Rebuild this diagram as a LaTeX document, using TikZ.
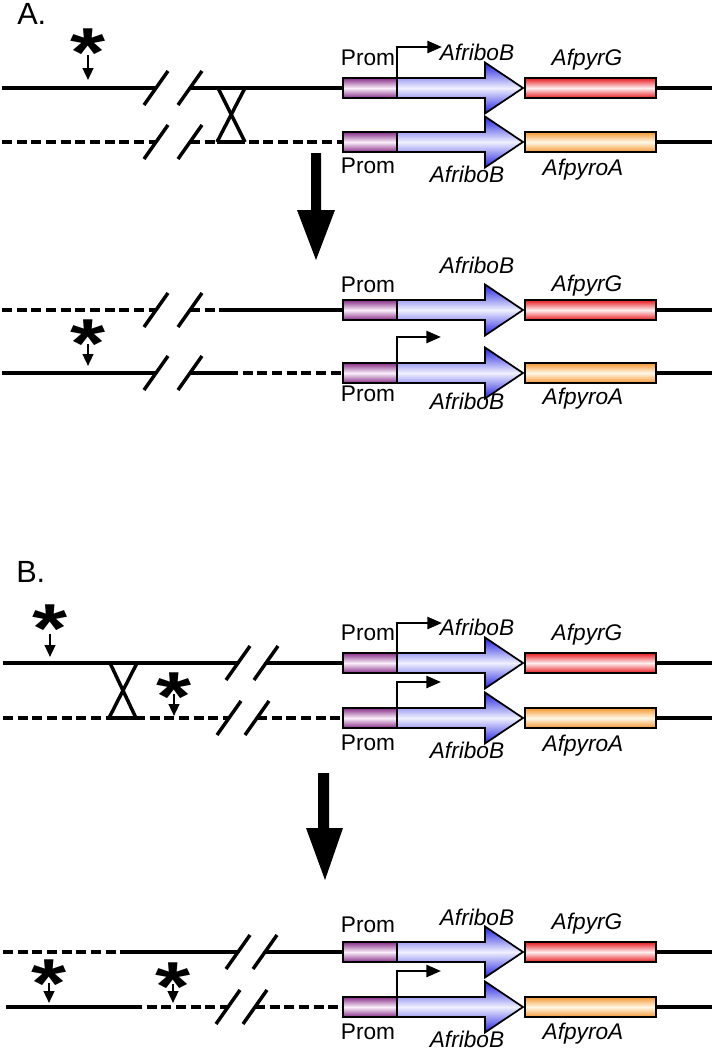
\documentclass[tikz,border=0pt]{standalone}
\usepackage{fontspec}
\setmainfont{Liberation Sans}
\usetikzlibrary{calc,arrows.meta}
\definecolor{promC}{RGB}{135,45,135}
\definecolor{promM}{RGB}{250,240,250}
\definecolor{arrC}{RGB}{35,35,225}
\definecolor{arrM}{RGB}{240,240,255}
\definecolor{redC}{RGB}{230,25,30}
\definecolor{redM}{RGB}{255,240,240}
\definecolor{orgC}{RGB}{245,150,50}
\definecolor{orgM}{RGB}{255,248,230}
\tikzset{
  dna/.style={line width=2.6pt},
  dnadash/.style={line width=2.6pt, dash pattern=on 7.5pt off 3.5pt},
  brk/.style={line width=2.6pt},
  xover/.style={line width=2.6pt},
  promnode/.style={draw, line width=1.3pt, minimum width=40.5pt, minimum height=15pt, inner sep=0pt, outer sep=0pt, top color=promC, bottom color=promC, middle color=promM},
  genenode/.style={draw, line width=1.3pt, minimum width=98.25pt, minimum height=15pt, inner sep=0pt, outer sep=0pt},
  arrowshape/.style={draw, line width=1.3pt, line join=miter, top color=arrC, bottom color=arrC, middle color=arrM},
  tss/.style={line width=1.9pt, line join=miter, -{Triangle[length=11pt,width=9pt]}},
  smallarr/.style={line width=1.7pt, -{Triangle[length=9pt,width=8pt]}},
  astnode/.style={anchor=north, inner sep=0pt, outer sep=0pt, font=\fontsize{52}{52}\selectfont\bfseries},
  lab/.style={anchor=base, inner sep=0pt, font=\fontsize{17}{20}\selectfont},
  itlab/.style={anchor=base, inner sep=0pt, font=\fontsize{17}{20}\selectfont\itshape},
  seclab/.style={anchor=base west, inner sep=0pt, font=\fontsize{23}{26}\selectfont},
  bigarrow/.style={fill=black}
}
\newcommand\cassette[4]{%
  \node[promnode] (#1p) at (370,#2) {};
  \path[arrowshape] (397,#2-10) -- (485,#2-10) -- (485,#2-25.5) -- (523,#2) -- (485,#2+25.5) -- (485,#2+10) -- (397,#2+10) -- cycle;
  \node[genenode, top color=#3, bottom color=#3, middle color=#4] (#1g) at (590.5,#2) {};
  \coordinate (#1R) at (712,#2);
  \draw[dna] (#1g.east) -- (#1R);
}
\newcommand\brkmark[1]{\draw[brk] ($(#1)+(-12,17)$) -- ($(#1)+(12,-17)$);}
\newcommand\mutation[5]{%
  \node[astnode] (#1) at (#2,#3) {\scalebox{1.3}[1]{*}};
  \coordinate (#1a) at (#2,#4);
  \coordinate (#1b) at (#2,#5);
  \draw[smallarr] (#1a) -- (#1b);
}
\begin{document}
\begin{tikzpicture}[x=0.75pt,y=-0.75pt]
\useasboundingbox (0,0) rectangle (715,1050);

% ---------- Section A ----------
\node[seclab] (labA) at (17,24) {A.};

% row 1 (y=88)
\cassette{r1}{88}{redC}{redM}
\coordinate (r1L) at (2,88);
\coordinate (r1s1) at (156,88);
\coordinate (r1s2) at (190,88);
\draw[dna] (r1L) -- (r1s1);
\draw[dna] (r1s2) -- (r1p.west);
\brkmark{r1s1}\brkmark{r1s2}
\coordinate (r1t) at (442,47);
\draw[tss] (r1p.north east) |- (r1t);
\node[lab] (r1lp) at (368,65) {Prom};
\node[itlab] (r1la) at (477,60) {AfriboB};
\node[itlab] (r1lg) at (587,65) {AfpyrG};
\mutation{m1}{88}{29}{55}{80}

% row 2 (y=142)
\cassette{r2}{142}{orgC}{orgM}
\coordinate (r2L) at (2,142);
\coordinate (r2s1) at (156,142);
\coordinate (r2s2) at (190,142);
\draw[dnadash] (r2L) -- (r2s1);
\draw[dnadash] (r2s2) -- (r2p.west);
\brkmark{r2s1}\brkmark{r2s2}
\node[lab] (r2lp) at (368,173) {Prom};
\node[itlab] (r2la) at (467,182) {AfriboB};
\node[itlab] (r2lg) at (583,175) {AfpyroA};

% crossover A
\coordinate (xa1) at (218,88);
\coordinate (xa2) at (245,142);
\coordinate (xa3) at (245,88);
\coordinate (xa4) at (217,142);
\draw[xover] (xa1) -- (xa2);
\draw[xover] (xa3) -- (xa4);
\draw[xover] (xa4) -- (xa2);

% big arrow A
\fill[bigarrow] (311,153) -- (321,153) -- (321,210) -- (335,210) -- (316,260) -- (297,210) -- (311,210) -- cycle;

% row 3 (y=310)
\cassette{r3}{310}{redC}{redM}
\coordinate (r3L) at (2,310);
\coordinate (r3s1) at (156,310);
\coordinate (r3s2) at (190,310);
\coordinate (r3j) at (228,310);
\draw[dnadash] (r3L) -- (r3s1);
\draw[dnadash] (r3s2) -- (r3j);
\draw[dna] (r3j) -- (r3p.west);
\brkmark{r3s1}\brkmark{r3s2}
\node[lab] (r3lp) at (368,292) {Prom};
\node[itlab] (r3la) at (477,273) {AfriboB};
\node[itlab] (r3lg) at (587,291) {AfpyrG};

% row 4 (y=373)
\cassette{r4}{373}{orgC}{orgM}
\coordinate (r4L) at (2,373);
\coordinate (r4s1) at (156,373);
\coordinate (r4s2) at (190,373);
\coordinate (r4j) at (228,373);
\draw[dna] (r4L) -- (r4s1);
\draw[dna] (r4s2) -- (r4j);
\draw[dnadash] (r4j) -- (r4p.west);
\brkmark{r4s1}\brkmark{r4s2}
\coordinate (r4t) at (441,337);
\draw[tss] (r4p.north east) |- (r4t);
\node[lab] (r4lp) at (368,401) {Prom};
\node[itlab] (r4la) at (467,409) {AfriboB};
\node[itlab] (r4lg) at (583,404) {AfpyroA};
\mutation{m2}{88}{320}{344}{366}

% ---------- Section B ----------
\node[seclab] (labB) at (16,582) {B.};

% row 5 (y=663)
\cassette{r5}{663}{redC}{redM}
\coordinate (r5L) at (3,663);
\coordinate (r5s1) at (238,663);
\coordinate (r5s2) at (266,663);
\draw[dna] (r5L) -- (r5s1);
\draw[dna] (r5s2) -- (r5p.west);
\brkmark{r5s1}\brkmark{r5s2}
\coordinate (r5t) at (442,623);
\draw[tss] (r5p.north east) |- (r5t);
\node[lab] (r5lp) at (368,640) {Prom};
\node[itlab] (r5la) at (477,635) {AfriboB};
\node[itlab] (r5lg) at (587,640) {AfpyrG};
\mutation{m3}{50}{605}{634}{657}

% row 6 (y=718)
\cassette{r6}{718}{orgC}{orgM}
\coordinate (r6L) at (3,718);
\coordinate (r6s1) at (229,718);
\coordinate (r6s2) at (257,718);
\draw[dnadash] (r6L) -- (r6s1);
\draw[dnadash] (r6s2) -- (r6p.west);
\brkmark{r6s1}\brkmark{r6s2}
\coordinate (r6t) at (441,682);
\draw[tss] (r6p.north east) |- (r6t);
\node[lab] (r6lp) at (368,750) {Prom};
\node[itlab] (r6la) at (467,758) {AfriboB};
\node[itlab] (r6lg) at (583,751) {AfpyroA};
\mutation{m4}{174}{673}{694}{716}

% crossover B
\coordinate (xb1) at (110,663);
\coordinate (xb2) at (136,718);
\coordinate (xb3) at (137,663);
\coordinate (xb4) at (109,718);
\draw[xover] (xb1) -- (xb2);
\draw[xover] (xb3) -- (xb4);
\draw[xover] (xb4) -- (xb2);

% big arrow B
\fill[bigarrow] (318,773) -- (329,773) -- (329,828) -- (343,828) -- (325,880) -- (306,828) -- (318,828) -- cycle;

% row 7 (y=952)
\cassette{r7}{952}{redC}{redM}
\coordinate (r7L) at (3,952);
\coordinate (r7j) at (123,952);
\coordinate (r7s1) at (238,952);
\coordinate (r7s2) at (265,952);
\draw[dnadash] (r7L) -- (r7j);
\draw[dna] (r7j) -- (r7s1);
\draw[dna] (r7s2) -- (r7p.west);
\brkmark{r7s1}\brkmark{r7s2}
\node[lab] (r7lp) at (368,932) {Prom};
\node[itlab] (r7la) at (477,925) {AfriboB};
\node[itlab] (r7lg) at (587,929) {AfpyrG};

% row 8 (y=1007)
\cassette{r8}{1007}{orgC}{orgM}
\coordinate (r8L) at (6,1007);
\coordinate (r8j) at (132,1007);
\coordinate (r8s1) at (228,1007);
\coordinate (r8s2) at (255,1007);
\draw[dna] (r8L) -- (r8j);
\draw[dnadash] (r8j) -- (r8s1);
\draw[dnadash] (r8s2) -- (r8p.west);
\brkmark{r8s1}\brkmark{r8s2}
\coordinate (r8t) at (441,971);
\draw[tss] (r8p.north east) |- (r8t);
\node[lab] (r8lp) at (368,1039) {Prom};
\node[itlab] (r8la) at (467,1047) {AfriboB};
\node[itlab] (r8lg) at (583,1039) {AfpyroA};
\mutation{m5}{49}{960}{983}{1003}
\mutation{m6}{173}{963}{984}{1003}
\end{tikzpicture}
\end{document}
